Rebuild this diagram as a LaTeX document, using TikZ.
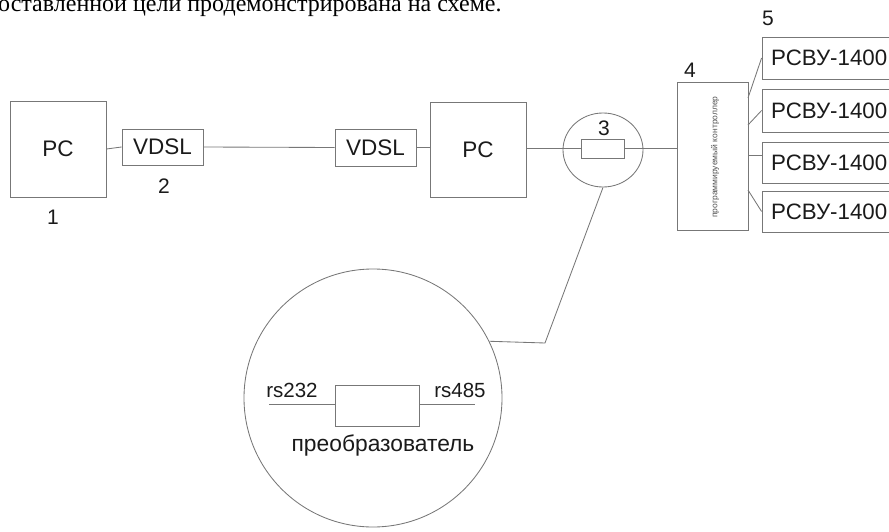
\documentclass[tikz,border=0pt]{standalone}
\usepackage{fontspec}
\setmainfont{Liberation Sans}
\newfontfamily\serifcyr{Liberation Serif}
\usetikzlibrary{calc,shapes.geometric}
\definecolor{ln}{HTML}{777777}
\definecolor{tx}{HTML}{1A1A1A}
\begin{document}
\begin{tikzpicture}[x=1pt,y=-1pt,
  box/.style={draw=ln, line width=0.85pt, rectangle, inner sep=0pt, text=tx, font=\fontsize{22.5}{26}\selectfont},
  wire/.style={draw=ln, line width=0.85pt},
  lbl/.style={text=tx, font=\fontsize{21}{25}\selectfont, inner sep=0pt},
  small/.style={text=tx, font=\fontsize{20.5}{24}\selectfont, inner sep=0pt}]
\useasboundingbox (0,0) rectangle (889,532);
\clip (0,0) rectangle (889,532);

% cut-off text line at the top
\node[anchor=base west, inner sep=0pt, text=black, font=\serifcyr\fontsize{24}{28}\selectfont] (toptext) at (-2,12) {оставленной цели продемонстрирована на схеме.};

% left part
\node[box, minimum width=96pt, minimum height=96pt] (pc1) at (58,149) {PC};
\node[box, minimum width=81pt, minimum height=36pt] (vdsl1) at (162.5,147) {VDSL};
\node[box, minimum width=81pt, minimum height=37pt] (vdsl2) at (375.5,147.5) {VDSL};
\node[box, minimum width=96pt, minimum height=95pt] (pc2) at (478,149.5) {PC};
\node[lbl] (n1) at (53,217) {1};
\node[lbl] (n2) at (164,186) {2};

\draw[wire] (pc1.east) -- (vdsl1.west);
\draw[wire] (vdsl1.east) -- (vdsl2.west);
\draw[wire] (vdsl2.east) -- (vdsl2.east -| pc2.west);

% converter 3
\node[draw=ln, line width=0.85pt, ellipse, minimum width=80pt, minimum height=74pt, inner sep=0pt] (ell) at (603,150) {};
\node[draw=ln, line width=0.85pt, rectangle, minimum width=43pt, minimum height=19pt, inner sep=0pt] (conv3) at (602.5,148.5) {};
\node[lbl] (n3) at (604,128) {3};
\draw[wire] (pc2.east |- conv3.west) -- (conv3.west);

% controller 4
\node[draw=ln, line width=0.85pt, rectangle, minimum width=71pt, minimum height=148pt, inner sep=0pt] (ctrl) at (712.5,156) {};
\node[rotate=90, inner sep=0pt, text=tx!75, font=\fontsize{8.5}{10}\selectfont] (ctrltext) at (715,157) {программируемый контроллер};
\node[lbl] (n4) at (690,70) {4};
\draw[wire] (conv3.east) -- (conv3.east -| ctrl.west);

% RSVU boxes 5
\node[box, minimum width=140pt, minimum height=42pt] (r1) at (832,58) {};
\node[box, minimum width=140pt, minimum height=43pt] (r2) at (832,110.5) {};
\node[box, minimum width=140pt, minimum height=41pt] (r3) at (832,162.5) {};
\node[box, minimum width=140pt, minimum height=41pt] (r4) at (832,211.5) {};
\node[anchor=west, inner sep=0pt, text=tx, font=\fontsize{22.3}{26}\selectfont] (t1) at (771,58) {РСВУ-1400};
\node[anchor=west, inner sep=0pt, text=tx, font=\fontsize{22.3}{26}\selectfont] (t2) at (771,110.5) {РСВУ-1400};
\node[anchor=west, inner sep=0pt, text=tx, font=\fontsize{22.3}{26}\selectfont] (t3) at (771,162.5) {РСВУ-1400};
\node[anchor=west, inner sep=0pt, text=tx, font=\fontsize{22.3}{26}\selectfont] (t4) at (771,211.5) {РСВУ-1400};
\node[lbl] (n5) at (768,18) {5};

\coordinate (c1) at (748,98);
\coordinate (c2) at (748,125);
\coordinate (c3) at (748,155);
\coordinate (c4) at (748,190);
\draw[wire] (c1) -- (r1.west);
\draw[wire] (c2) -- (r2.west);
\draw[wire] (c3) -- (c3 -| r3.west);
\draw[wire] (c4) -- (r4.west);

% magnified view
\node[draw=ln, line width=0.85pt, circle, minimum size=258pt, inner sep=0pt] (big) at (373,398) {};
\coordinate (bend) at (545,343);
\draw[wire] (ell.south) -- (bend) -- (big.26);

\node[draw=ln, line width=0.85pt, rectangle, minimum width=84pt, minimum height=41pt, inner sep=0pt] (conv) at (377,405.5) {};
\coordinate (rsl) at (269,404);
\coordinate (rsr) at (475,404);
\draw[wire] (rsl) -- (rsl -| conv.west);
\draw[wire] (rsr -| conv.east) -- (rsr);
\node[small] (rs232) at (292,390) {rs232};
\node[small] (rs485) at (460,390) {rs485};
\node[text=tx, font=\fontsize{22.8}{26}\selectfont, inner sep=0pt] (pre) at (383,446) {преобразователь};
\end{tikzpicture}
\end{document}
